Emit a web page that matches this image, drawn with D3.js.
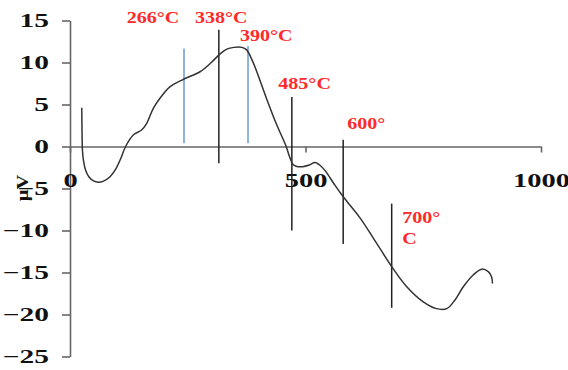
<!DOCTYPE html>
<html>
<head>
<meta charset="utf-8">
<script src="https://cdn.jsdelivr.net/npm/d3@7"></script>
<style>
  html, body { margin: 0; padding: 0; background: #fff; }
  svg { display: block; }
</style>
</head>
<body>
<svg id="chart" width="568" height="370"></svg>
<script>
// ---- data ----
const curveX = [25, 25.5, 26.5, 29, 33, 40, 50, 60, 70, 85, 97, 108, 118, 134.4, 152, 162.8, 176.9, 191, 212, 240.6, 276, 300, 318, 333, 348, 365, 375, 385, 396, 416, 438, 459, 466, 473, 480, 494, 508, 520, 530, 542, 560, 575, 594.5, 615.7, 644, 683, 715, 750, 778, 800, 817, 835, 856, 874, 888, 895, 897];
const curveY = [4.6, 2.0, -0.5, -1.8, -2.8, -3.6, -4.1, -4.25, -4.15, -3.6, -2.7, -1.4, 0, 1.37, 1.96, 2.76, 4.55, 5.74, 7.1, 8.0, 8.9, 10.0, 11.0, 11.6, 11.8, 11.8, 11.5, 10.5, 9.0, 5.9, 2.7, 0, -1.2, -2.1, -2.35, -2.4, -2.2, -1.9, -2.2, -2.9, -4.4, -5.6, -7.0, -8.5, -10.9, -14.3, -16.7, -18.5, -19.3, -19.3, -18.3, -16.7, -15.3, -14.6, -14.9, -15.5, -16.3];

const markerX = [242, 316, 378, 471, 580, 683];
const markerTop = [11.65, 13.9, 11.95, 5.9, 0.8, -6.8];
const markerBottom = [0.4, -2.0, 0.4, -10.0, -11.6, -19.2];
const markerKind = ["minor", "major", "minor", "major", "major", "major"];

const labelText = ["266°C", "338°C", "390°C", "485°C", "600°", "700°", "C"];
const labelX = [120.4, 265.4, 360.9, 442.2, 588.7, 705.5, 705.5];
const labelY = [14.67, 14.67, 12.55, 6.85, 2.1, -9.15, -11.65];

const xTicks = [0, 500, 1000];
const yTicks = [15, 10, 5, 0, -5, -10, -15, -20, -25];
const yLabel = "µV";

// ---- drawing ----
const svg = d3.select("#chart");
const x = d3.scaleLinear().domain([0, 1000]).range([70, 541]);
const y = d3.scaleLinear().domain([-25, 15]).range([356.5, 20.5]);

const serif = "Liberation Serif";
function stretch(sel, f) {
  sel.each(function () {
    const w = this.getComputedTextLength();
    d3.select(this).attr("textLength", w * f).attr("lengthAdjust", "spacingAndGlyphs");
  });
}

// y axis
const gy = svg.append("g").attr("transform", `translate(${x(0)},0)`)
  .call(d3.axisLeft(y).tickValues(yTicks).tickFormat(d3.format("d")).tickSize(8).tickSizeOuter(0).tickPadding(13));
gy.select(".domain").attr("stroke", "#666").attr("stroke-width", 1.6);
gy.selectAll(".tick line").attr("stroke", "#666").attr("stroke-width", 1.6);
gy.selectAll(".tick text").attr("font-family", serif).attr("font-size", 19)
  .attr("font-weight", "bold").attr("fill", "#111").call(stretch, 1.55);

// x axis
const gx = svg.append("g").attr("transform", `translate(0,${y(0)})`)
  .call(d3.axisBottom(x).tickValues(xTicks).tickFormat(d3.format("d")).tickSize(6).tickSizeOuter(0).tickPadding(21));
gx.select(".domain").attr("stroke", "#666").attr("stroke-width", 1.6);
gx.selectAll(".tick line").attr("stroke", "#666").attr("stroke-width", 1.6);
gx.selectAll(".tick text").attr("font-family", serif).attr("font-size", 19)
  .attr("font-weight", "bold").attr("fill", "#111").call(stretch, 1.5);

// y label
svg.append("text")
  .attr("transform", `translate(28,188) rotate(-90)`)
  .attr("text-anchor", "middle")
  .attr("font-family", serif).attr("font-size", 17).attr("font-weight", "bold")
  .attr("fill", "#111")
  .text(yLabel)
  .call(stretch, 1.2);

// markers
svg.append("g").selectAll("line").data(markerX).join("line")
  .attr("x1", d => x(d)).attr("x2", d => x(d))
  .attr("y1", (d, i) => y(markerTop[i])).attr("y2", (d, i) => y(markerBottom[i]))
  .attr("stroke", (d, i) => markerKind[i] === "minor" ? "#8fb3dc" : "#222")
  .attr("stroke-width", (d, i) => markerKind[i] === "minor" ? 2 : 1.5);

// curve
const pts = curveX.map((d, i) => [d, curveY[i]]);
svg.append("path").datum(pts)
  .attr("fill", "none").attr("stroke", "#333").attr("stroke-width", 1.5)
  .attr("d", d3.line().x(d => x(d[0])).y(d => y(d[1])).curve(d3.curveCatmullRom.alpha(0.5)));

// labels
svg.append("g").selectAll("text").data(labelText).join("text")
  .attr("x", (d, i) => x(labelX[i])).attr("y", (d, i) => y(labelY[i]))
  .attr("font-family", serif).attr("font-size", 17).attr("font-weight", "bold")
  .attr("fill", "#ff2a2a")
  .text(d => d)
  .call(stretch, 1.18);
</script>
</body>
</html>
